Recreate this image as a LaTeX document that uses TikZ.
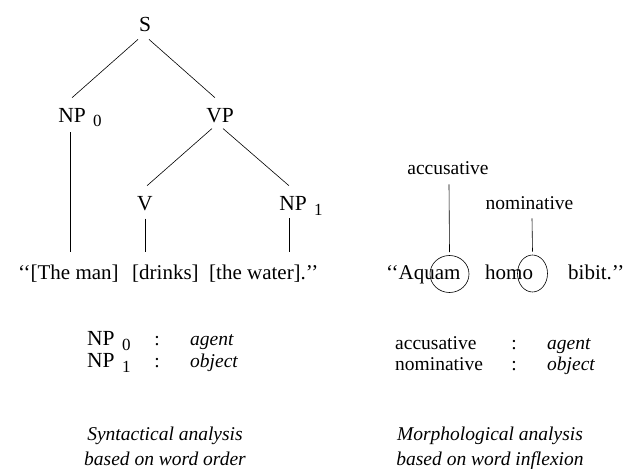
\documentclass[tikz,border=0pt]{standalone}
\usepackage{fontspec}
\setmainfont{Liberation Serif}
\usetikzlibrary{calc,shapes.geometric}
\tikzset{
  big/.style={inner sep=0pt, font=\fontsize{21.5}{22}\selectfont},
  sub/.style={inner sep=0pt, font=\fontsize{17}{18}\selectfont, anchor=base west},
  small/.style={inner sep=0pt, font=\fontsize{19.5}{20}\selectfont},
  smallit/.style={inner sep=0pt, font=\fontsize{19.5}{20}\selectfont\itshape},
  word/.style={inner sep=0pt, font=\fontsize{21}{22}\selectfont, anchor=base west},
  ring/.style={draw, ellipse, inner sep=0pt, line width=0.6pt},
  edge/.style={line width=0.6pt}
}
\begin{document}
\begin{tikzpicture}[x=1pt,y=-1pt]
\useasboundingbox (0,0) rectangle (631,468);
% tree
\node[big,anchor=base] (S) at (145,32) {S};
\node[big,anchor=base] (NP0) at (72,122) {NP};
\node[sub] (NP0s) at (93,127) {0};
\node[big,anchor=base] (VP) at (220,122) {VP};
\node[big,anchor=base] (V) at (145,210) {V};
\node[big,anchor=base] (NP1) at (293,210) {NP};
\node[sub] (NP1s) at (314,215) {1};
% sentence left
\node[word] (w1) at (18,279) {\textquoteleft\textquoteleft[The man]};
\node[word] (w2) at (132,279) {[drinks]};
\node[word] (w3) at (209,279) {[the water].\textquoteright\textquoteright};
% tree edges
\draw[edge] ($(S.south)+(-7,7)$) -- ($(NP0.north)+(0,-10)$);
\draw[edge] ($(S.south)+(4,7)$) -- ($(VP.north)+(-5,-10)$);
\draw[edge] ($(VP.south)+(-8,6)$) -- ($(V.north)+(2,-10)$);
\draw[edge] ($(VP.south)+(3,6)$) -- ($(NP1.north)+(-4,-10)$);
\coordinate (np0b) at ($(NP0.south)+(-2,10)$);
\coordinate (vb) at ($(V.south)+(0,8)$);
\coordinate (np1b) at ($(NP1.south)+(-4,8)$);
\draw[edge] (np0b) -- ($(np0b |- w1.north)+(0,-12)$);
\draw[edge] (vb) -- ($(vb |- w2.north)+(0,-12)$);
\draw[edge] (np1b) -- ($(np1b |- w3.north)+(0,-12)$);
% right side
\node[small,anchor=base] (acc) at (448,174) {accusative};
\node[small,anchor=base] (nom) at (529.5,209) {nominative};
\node[word] (r1) at (386,279) {\textquoteleft\textquoteleft Aquam};
\node[word] (r2) at (485,279) {homo};
\node[word] (r3) at (568,279) {bibit.\textquoteright\textquoteright};
\node[ring, minimum width=39pt, minimum height=37pt] (e1) at (449.5,274) {};
\node[ring, minimum width=30pt, minimum height=37pt] (e2) at (532.5,273.5) {};
\draw[edge] ($(acc.south)+(1,10)$) -- ($(e1.north)+(0,-3)$);
\draw[edge] ($(nom.south)+(2.5,9)$) -- ($(e2.north)+(0,-3)$);
% tables
\node[big,anchor=base west] (t1a) at (87,345) {NP};
\node[sub] (t1s) at (122,350) {0};
\node[small,anchor=base] (t1c) at (157,345) {:};
\node[smallit,anchor=base west] (t1r) at (190,345) {agent};
\node[big,anchor=base west] (t2a) at (87,367) {NP};
\node[sub] (t2s) at (122,372) {1};
\node[small,anchor=base] (t2c) at (157,367) {:};
\node[smallit,anchor=base west] (t2r) at (190,367) {object};
\node[small,anchor=base west] (u1a) at (395,349) {accusative};
\node[small,anchor=base] (u1c) at (514,349) {:};
\node[smallit,anchor=base west] (u1r) at (547,349) {agent};
\node[small,anchor=base west] (u2a) at (395,370) {nominative};
\node[small,anchor=base] (u2c) at (514,370) {:};
\node[smallit,anchor=base west] (u2r) at (547,370) {object};
% captions
\node[smallit,anchor=base] (c1) at (165,440) {Syntactical analysis};
\node[smallit,anchor=base] (c2) at (165,465) {based on word order};
\node[smallit,anchor=base] (c3) at (490,440) {Morphological analysis};
\node[smallit,anchor=base] (c4) at (490,465) {based on word inflexion};
\end{tikzpicture}
\end{document}
